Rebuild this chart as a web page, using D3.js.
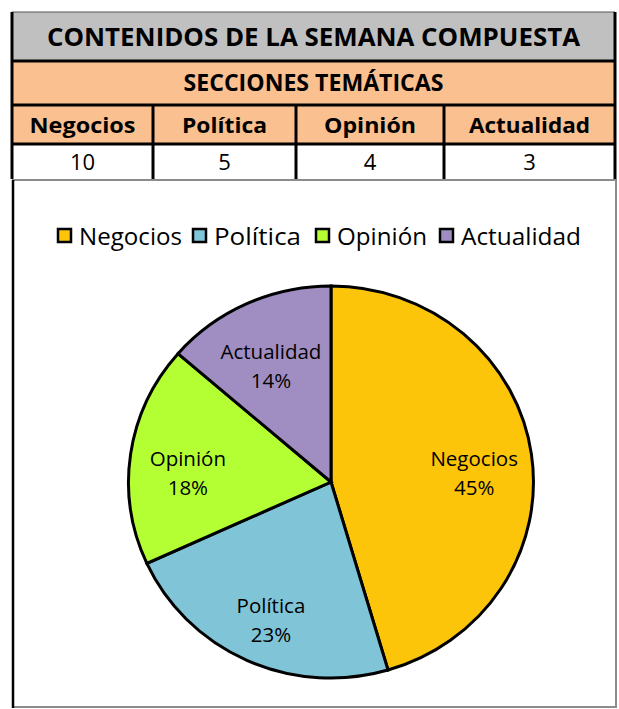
<!DOCTYPE html>
<html>
<head>
<meta charset="utf-8">
<script src="https://cdn.jsdelivr.net/npm/d3@7"></script>
<style>
  body { margin: 0; background: #fff; }
  svg { display: block; font-family: "Open Sans", "Noto Sans", sans-serif; }
</style>
</head>
<body>
<div id="chart"></div>
<script>
// data
var title = "CONTENIDOS DE LA SEMANA COMPUESTA";
var subtitle = "SECCIONES TEMÁTICAS";
var categories = ["Negocios", "Política", "Opinión", "Actualidad"];
var values = [10, 5, 4, 3];
var colors = ["#fcc50a", "#80c4d7", "#b3ff33", "#a08ec3"];

var W = 619, H = 709;
var svg = d3.select("#chart").append("svg").attr("width", W).attr("height", H);

// table set-up (column/row edges, columns are not equal)
var colEdges = [12, 153, 296, 444, 615];
var rowEdges = [12, 61, 105, 144, 179];
function colMid(i) { return (colEdges[i] + colEdges[i + 1]) / 2; }

var table = svg.append("g").attr("class", "table");

// row backgrounds
table.append("rect").attr("x", colEdges[0]).attr("y", rowEdges[0])
  .attr("width", colEdges[4] - colEdges[0]).attr("height", rowEdges[1] - rowEdges[0])
  .attr("fill", "#c0c0c0");
table.append("rect").attr("x", colEdges[0]).attr("y", rowEdges[1])
  .attr("width", colEdges[4] - colEdges[0]).attr("height", rowEdges[3] - rowEdges[1])
  .attr("fill", "#fac090");

// title texts
table.append("text")
  .attr("x", (colEdges[0] + colEdges[4]) / 2).attr("y", (rowEdges[0] + rowEdges[1]) / 2 + 9)
  .attr("text-anchor", "middle").attr("font-weight", "bold").attr("font-size", 25)
  .attr("textLength", 533).attr("lengthAdjust", "spacingAndGlyphs")
  .text(title);
table.append("text")
  .attr("x", (colEdges[0] + colEdges[4]) / 2).attr("y", (rowEdges[1] + rowEdges[2]) / 2 + 8)
  .attr("text-anchor", "middle").attr("font-weight", "bold").attr("font-size", 23)
  .attr("textLength", 260).attr("lengthAdjust", "spacingAndGlyphs")
  .text(subtitle);

// header and value cells
var headerWidths = [106, 85, 92, 121];
categories.forEach(function(c, i) {
  table.append("text")
    .attr("x", colMid(i)).attr("y", (rowEdges[2] + rowEdges[3]) / 2 + 8)
    .attr("text-anchor", "middle").attr("font-weight", "bold").attr("font-size", 22)
    .attr("textLength", headerWidths[i]).attr("lengthAdjust", "spacingAndGlyphs")
    .text(c);
  table.append("text")
    .attr("x", colMid(i)).attr("y", (rowEdges[3] + rowEdges[4]) / 2 + 8)
    .attr("text-anchor", "middle").attr("font-size", 22)
    .text(values[i]);
});

// grid lines
[rowEdges[1], rowEdges[2], rowEdges[3]].forEach(function(yy) {
  table.append("line").attr("x1", colEdges[0]).attr("x2", colEdges[4])
    .attr("y1", yy).attr("y2", yy).attr("stroke", "#000").attr("stroke-width", 3);
});
table.append("line").attr("x1", colEdges[0]).attr("x2", colEdges[4])
  .attr("y1", rowEdges[0]).attr("y2", rowEdges[0]).attr("stroke", "#555").attr("stroke-width", 1);
colEdges.slice(1, 4).forEach(function(xx) {
  table.append("line").attr("x1", xx).attr("x2", xx)
    .attr("y1", rowEdges[2]).attr("y2", rowEdges[4]).attr("stroke", "#000").attr("stroke-width", 3);
});
[colEdges[0], colEdges[4]].forEach(function(xx) {
  table.append("line").attr("x1", xx).attr("x2", xx)
    .attr("y1", rowEdges[0]).attr("y2", rowEdges[4]).attr("stroke", "#000").attr("stroke-width", 3);
});

// chart box
svg.append("rect").attr("x", 13).attr("y", 180).attr("width", 603).attr("height", 527)
  .attr("fill", "#fff").attr("stroke", "#8c8c8c").attr("stroke-width", 2);
svg.append("line").attr("x1", 13).attr("x2", 13).attr("y1", 180).attr("y2", 708)
  .attr("stroke", "#000").attr("stroke-width", 2.5);

// LEGEND
var legendX = [58, 193, 316, 440];
var legendW = [103, 87, 90, 120];
var legend = svg.append("g").attr("class", "legend");
categories.forEach(function(c, i) {
  legend.append("rect").attr("x", legendX[i]).attr("y", 229).attr("width", 13).attr("height", 13)
    .attr("fill", colors[i]).attr("stroke", "#000").attr("stroke-width", 2.5);
  legend.append("text").attr("x", legendX[i] + 21).attr("y", 245)
    .attr("font-size", 23.5)
    .attr("textLength", legendW[i]).attr("lengthAdjust", "spacingAndGlyphs")
    .text(c);
});

// PIE
var cx = 331, cy = 482, r = 196, sx = 1.033;
var pie = d3.pie().sort(null).startAngle(0).endAngle(2 * Math.PI);
var arcs = pie(values);
var arc = d3.arc().innerRadius(0).outerRadius(r);
var labelArc = d3.arc().innerRadius(140).outerRadius(140);
var total = d3.sum(values);

var g = svg.append("g").attr("transform", "translate(" + cx + "," + cy + ")");
g.append("g").attr("transform", "scale(" + sx + ",1)")
  .selectAll("path").data(arcs).enter().append("path")
    .attr("d", arc)
    .attr("fill", function(d, i) { return colors[i]; })
    .attr("stroke", "#000").attr("stroke-width", 3)
    .attr("vector-effect", "non-scaling-stroke");

var labels = g.selectAll("g.lbl").data(arcs).enter().append("g")
  .attr("class", "lbl")
  .attr("transform", function(d) {
    var c = labelArc.centroid(d);
    return "translate(" + (c[0] * sx) + "," + c[1] + ")";
  });
labels.append("text").attr("text-anchor", "middle").attr("y", 4)
  .attr("font-size", 20.5).text(function(d, i) { return categories[i]; });
labels.append("text").attr("text-anchor", "middle").attr("y", 33)
  .attr("font-size", 20.5).text(function(d) { return Math.round(d.value / total * 100) + "%"; });
</script>
</body>
</html>
